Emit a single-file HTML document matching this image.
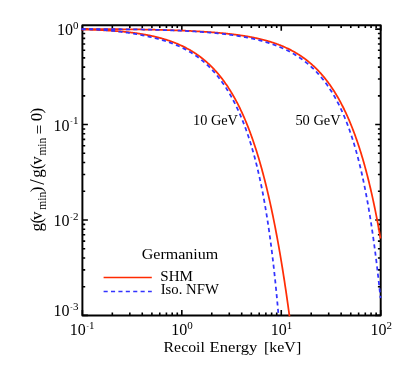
<!DOCTYPE html>
<html><head><meta charset="utf-8"><style>
html,body{margin:0;padding:0;background:#fff;}
svg{display:block;will-change:transform;font-family:"Liberation Serif",serif;fill:#000;}
</style></head><body>
<svg width="405" height="368" viewBox="0 0 405 368">
<rect width="405" height="368" fill="#fff"/>
<g fill="none" stroke-linecap="butt" stroke-linejoin="round">
<path d="M82.40 315.40 v-5.50 M82.40 25.20 v5.50 M112.33 315.40 v-2.80 M112.33 25.20 v2.80 M129.84 315.40 v-2.80 M129.84 25.20 v2.80 M142.26 315.40 v-2.80 M142.26 25.20 v2.80 M151.90 315.40 v-2.80 M151.90 25.20 v2.80 M159.77 315.40 v-2.80 M159.77 25.20 v2.80 M166.43 315.40 v-2.80 M166.43 25.20 v2.80 M172.20 315.40 v-2.80 M172.20 25.20 v2.80 M177.28 315.40 v-2.80 M177.28 25.20 v2.80 M181.83 315.40 v-5.50 M181.83 25.20 v5.50 M211.77 315.40 v-2.80 M211.77 25.20 v2.80 M229.28 315.40 v-2.80 M229.28 25.20 v2.80 M241.70 315.40 v-2.80 M241.70 25.20 v2.80 M251.33 315.40 v-2.80 M251.33 25.20 v2.80 M259.21 315.40 v-2.80 M259.21 25.20 v2.80 M265.86 315.40 v-2.80 M265.86 25.20 v2.80 M271.63 315.40 v-2.80 M271.63 25.20 v2.80 M276.72 315.40 v-2.80 M276.72 25.20 v2.80 M281.27 315.40 v-5.50 M281.27 25.20 v5.50 M311.20 315.40 v-2.80 M311.20 25.20 v2.80 M328.71 315.40 v-2.80 M328.71 25.20 v2.80 M341.13 315.40 v-2.80 M341.13 25.20 v2.80 M350.77 315.40 v-2.80 M350.77 25.20 v2.80 M358.64 315.40 v-2.80 M358.64 25.20 v2.80 M365.30 315.40 v-2.80 M365.30 25.20 v2.80 M371.06 315.40 v-2.80 M371.06 25.20 v2.80 M376.15 315.40 v-2.80 M376.15 25.20 v2.80 M380.70 315.40 v-5.50 M380.70 25.20 v5.50 M82.40 315.40 h5.50 M380.70 315.40 h-5.50 M82.40 286.68 h2.80 M380.70 286.68 h-2.80 M82.40 269.87 h2.80 M380.70 269.87 h-2.80 M82.40 257.95 h2.80 M380.70 257.95 h-2.80 M82.40 248.71 h2.80 M380.70 248.71 h-2.80 M82.40 241.15 h2.80 M380.70 241.15 h-2.80 M82.40 234.76 h2.80 M380.70 234.76 h-2.80 M82.40 229.23 h2.80 M380.70 229.23 h-2.80 M82.40 224.35 h2.80 M380.70 224.35 h-2.80 M82.40 219.98 h5.50 M380.70 219.98 h-5.50 M82.40 191.26 h2.80 M380.70 191.26 h-2.80 M82.40 174.46 h2.80 M380.70 174.46 h-2.80 M82.40 162.54 h2.80 M380.70 162.54 h-2.80 M82.40 153.29 h2.80 M380.70 153.29 h-2.80 M82.40 145.73 h2.80 M380.70 145.73 h-2.80 M82.40 139.35 h2.80 M380.70 139.35 h-2.80 M82.40 133.81 h2.80 M380.70 133.81 h-2.80 M82.40 128.93 h2.80 M380.70 128.93 h-2.80 M82.40 124.57 h5.50 M380.70 124.57 h-5.50 M82.40 95.84 h2.80 M380.70 95.84 h-2.80 M82.40 79.04 h2.80 M380.70 79.04 h-2.80 M82.40 67.12 h2.80 M380.70 67.12 h-2.80 M82.40 57.87 h2.80 M380.70 57.87 h-2.80 M82.40 50.32 h2.80 M380.70 50.32 h-2.80 M82.40 43.93 h2.80 M380.70 43.93 h-2.80 M82.40 38.40 h2.80 M380.70 38.40 h-2.80 M82.40 33.52 h2.80 M380.70 33.52 h-2.80 M82.40 29.15 h5.50 M380.70 29.15 h-5.50" stroke="#000" stroke-width="1.6"/>
<rect x="82.4" y="25.2" width="298.30" height="290.20" stroke="#000" stroke-width="1.95"/>
<path d="M81.50 29.54 L82.00 29.55 L82.50 29.56 L83.00 29.57 L83.50 29.58 L84.00 29.59 L84.50 29.60 L85.00 29.62 L85.50 29.63 L86.00 29.64 L86.50 29.65 L87.00 29.67 L87.50 29.68 L88.00 29.69 L88.50 29.71 L89.00 29.72 L89.50 29.74 L90.00 29.75 L90.50 29.77 L91.00 29.78 L91.50 29.80 L92.00 29.81 L92.50 29.83 L93.00 29.85 L93.50 29.86 L94.00 29.88 L94.50 29.90 L95.00 29.92 L95.50 29.93 L96.00 29.95 L96.50 29.97 L97.00 29.99 L97.50 30.01 L98.00 30.03 L98.50 30.05 L99.00 30.07 L99.50 30.09 L100.00 30.12 L100.50 30.14 L101.00 30.16 L101.50 30.18 L102.00 30.21 L102.50 30.23 L103.00 30.25 L103.50 30.28 L104.00 30.30 L104.50 30.33 L105.00 30.36 L105.50 30.38 L106.00 30.41 L106.50 30.44 L107.00 30.47 L107.50 30.49 L108.00 30.52 L108.50 30.55 L109.00 30.58 L109.50 30.61 L110.00 30.64 L110.50 30.68 L111.00 30.71 L111.50 30.74 L112.00 30.77 L112.50 30.81 L113.00 30.84 L113.50 30.88 L114.00 30.91 L114.50 30.95 L115.00 30.98 L115.50 31.02 L116.00 31.06 L116.50 31.10 L117.00 31.14 L117.50 31.18 L118.00 31.22 L118.50 31.26 L119.00 31.30 L119.50 31.34 L120.00 31.39 L120.50 31.43 L121.00 31.47 L121.50 31.52 L122.00 31.56 L122.50 31.61 L123.00 31.66 L123.50 31.71 L124.00 31.75 L124.50 31.80 L125.00 31.85 L125.50 31.91 L126.00 31.96 L126.50 32.01 L127.00 32.06 L127.50 32.12 L128.00 32.17 L128.50 32.23 L129.00 32.29 L129.50 32.34 L130.00 32.40 L130.50 32.46 L131.00 32.52 L131.50 32.58 L132.00 32.64 L132.50 32.71 L133.00 32.77 L133.50 32.83 L134.00 32.90 L134.50 32.97 L135.00 33.03 L135.50 33.10 L136.00 33.17 L136.50 33.24 L137.00 33.31 L137.50 33.39 L138.00 33.46 L138.50 33.54 L139.00 33.61 L139.50 33.69 L140.00 33.77 L140.50 33.84 L141.00 33.92 L141.50 34.01 L142.00 34.09 L142.50 34.17 L143.00 34.26 L143.50 34.34 L144.00 34.43 L144.50 34.52 L145.00 34.61 L145.50 34.70 L146.00 34.79 L146.50 34.88 L147.00 34.98 L147.50 35.07 L148.00 35.17 L148.50 35.27 L149.00 35.37 L149.50 35.47 L150.00 35.57 L150.50 35.67 L151.00 35.78 L151.50 35.89 L152.00 35.99 L152.50 36.10 L153.00 36.22 L153.50 36.33 L154.00 36.44 L154.50 36.56 L155.00 36.67 L155.50 36.79 L156.00 36.91 L156.50 37.04 L157.00 37.16 L157.50 37.28 L158.00 37.41 L158.50 37.54 L159.00 37.67 L159.50 37.80 L160.00 37.93 L160.50 38.07 L161.00 38.21 L161.50 38.35 L162.00 38.49 L162.50 38.63 L163.00 38.77 L163.50 38.92 L164.00 39.07 L164.50 39.22 L165.00 39.37 L165.50 39.52 L166.00 39.68 L166.50 39.84 L167.00 40.00 L167.50 40.16 L168.00 40.32 L168.50 40.49 L169.00 40.66 L169.50 40.83 L170.00 41.00 L170.50 41.18 L171.00 41.36 L171.50 41.54 L172.00 41.72 L172.50 41.90 L173.00 42.09 L173.50 42.28 L174.00 42.47 L174.50 42.66 L175.00 42.86 L175.50 43.06 L176.00 43.26 L176.50 43.47 L177.00 43.67 L177.50 43.88 L178.00 44.09 L178.50 44.31 L179.00 44.53 L179.50 44.75 L180.00 44.97 L180.50 45.20 L181.00 45.43 L181.50 45.66 L182.00 45.89 L182.50 46.13 L183.00 46.37 L183.50 46.62 L184.00 46.86 L184.50 47.11 L185.00 47.37 L185.50 47.62 L186.00 47.88 L186.50 48.15 L187.00 48.41 L187.50 48.68 L188.00 48.96 L188.50 49.23 L189.00 49.51 L189.50 49.80 L190.00 50.09 L190.50 50.38 L191.00 50.67 L191.50 50.97 L192.00 51.27 L192.50 51.58 L193.00 51.89 L193.50 52.20 L194.00 52.52 L194.50 52.84 L195.00 53.17 L195.50 53.50 L196.00 53.84 L196.50 54.18 L197.00 54.52 L197.50 54.87 L198.00 55.22 L198.50 55.58 L199.00 55.94 L199.50 56.30 L200.00 56.67 L200.50 57.05 L201.00 57.43 L201.50 57.81 L202.00 58.20 L202.50 58.60 L203.00 59.00 L203.50 59.40 L204.00 59.81 L204.50 60.23 L205.00 60.65 L205.50 61.07 L206.00 61.50 L206.50 61.94 L207.00 62.38 L207.50 62.83 L208.00 63.28 L208.50 63.74 L209.00 64.21 L209.50 64.68 L210.00 65.16 L210.50 65.64 L211.00 66.13 L211.50 66.63 L212.00 67.13 L212.50 67.64 L213.00 68.15 L213.50 68.67 L214.00 69.20 L214.50 69.74 L215.00 70.28 L215.50 70.83 L216.00 71.38 L216.50 71.95 L217.00 72.52 L217.50 73.10 L218.00 73.68 L218.50 74.27 L219.00 74.87 L219.50 75.48 L220.00 76.10 L220.50 76.72 L221.00 77.35 L221.50 77.99 L222.00 78.64 L222.50 79.30 L223.00 79.96 L223.50 80.63 L224.00 81.32 L224.50 82.01 L225.00 82.71 L225.50 83.42 L226.00 84.13 L226.50 84.86 L227.00 85.60 L227.50 86.34 L228.00 87.10 L228.50 87.86 L229.00 88.64 L229.50 89.42 L230.00 90.22 L230.50 91.03 L231.00 91.84 L231.50 92.67 L232.00 93.51 L232.50 94.35 L233.00 95.21 L233.50 96.08 L234.00 96.96 L234.50 97.86 L235.00 98.76 L235.50 99.68 L236.00 100.61 L236.50 101.55 L237.00 102.50 L237.50 103.46 L238.00 104.44 L238.50 105.43 L239.00 106.43 L239.50 107.45 L240.00 108.48 L240.50 109.52 L241.00 110.58 L241.50 111.64 L242.00 112.73 L242.50 113.83 L243.00 114.94 L243.50 116.06 L244.00 117.20 L244.50 118.36 L245.00 119.53 L245.50 120.72 L246.00 121.92 L246.50 123.13 L247.00 124.37 L247.50 125.62 L248.00 126.88 L248.50 128.16 L249.00 129.46 L249.50 130.78 L250.00 132.11 L250.50 133.46 L251.00 134.82 L251.50 136.21 L252.00 137.61 L252.50 139.03 L253.00 140.47 L253.50 141.93 L254.00 143.41 L254.50 144.91 L255.00 146.42 L255.50 147.96 L256.00 149.51 L256.50 151.09 L257.00 152.69 L257.50 154.30 L258.00 155.94 L258.50 157.60 L259.00 159.29 L259.50 160.99 L260.00 162.72 L260.50 164.46 L261.00 166.23 L261.50 168.03 L262.00 169.85 L262.50 171.69 L263.00 173.55 L263.50 175.44 L264.00 177.36 L264.50 179.30 L265.00 181.26 L265.50 183.25 L266.00 185.27 L266.50 187.31 L267.00 189.38 L267.50 191.47 L268.00 193.60 L268.50 195.75 L269.00 197.93 L269.50 200.13 L270.00 202.37 L270.50 204.63 L271.00 206.93 L271.50 209.25 L272.00 211.60 L272.50 213.99 L273.00 216.41 L273.50 218.85 L274.00 221.33 L274.50 223.84 L275.00 226.39 L275.50 228.96 L276.00 231.57 L276.50 234.22 L277.00 236.90 L277.50 239.61 L278.00 242.36 L278.50 245.14 L279.00 247.96 L279.50 250.82 L280.00 253.71 L280.50 256.64 L281.00 259.61 L281.50 262.62 L282.00 265.66 L282.50 268.75 L283.00 271.87 L283.50 275.04 L284.00 278.24 L284.50 281.49 L285.00 284.78 L285.50 288.11 L286.00 291.49 L286.50 294.90 L287.00 298.37 L287.50 301.87 L288.00 305.42 L288.50 309.02 L289.00 312.66 L289.49 316.30" stroke="#ff2d05" stroke-width="1.75"/>
<path d="M81.50 29.15 L82.00 29.15 L82.50 29.15 L83.00 29.15 L83.50 29.15 L84.00 29.15 L84.50 29.15 L85.00 29.15 L85.50 29.15 L86.00 29.16 L86.50 29.16 L87.00 29.16 L87.50 29.16 L88.00 29.16 L88.50 29.16 L89.00 29.16 L89.50 29.16 L90.00 29.16 L90.50 29.16 L91.00 29.16 L91.50 29.16 L92.00 29.16 L92.50 29.16 L93.00 29.16 L93.50 29.16 L94.00 29.16 L94.50 29.16 L95.00 29.16 L95.50 29.16 L96.00 29.17 L96.50 29.17 L97.00 29.17 L97.50 29.17 L98.00 29.17 L98.50 29.17 L99.00 29.17 L99.50 29.17 L100.00 29.17 L100.50 29.17 L101.00 29.17 L101.50 29.18 L102.00 29.18 L102.50 29.18 L103.00 29.18 L103.50 29.18 L104.00 29.18 L104.50 29.18 L105.00 29.18 L105.50 29.19 L106.00 29.19 L106.50 29.19 L107.00 29.19 L107.50 29.19 L108.00 29.19 L108.50 29.20 L109.00 29.20 L109.50 29.20 L110.00 29.20 L110.50 29.20 L111.00 29.21 L111.50 29.21 L112.00 29.21 L112.50 29.21 L113.00 29.21 L113.50 29.22 L114.00 29.22 L114.50 29.22 L115.00 29.22 L115.50 29.23 L116.00 29.23 L116.50 29.23 L117.00 29.24 L117.50 29.24 L118.00 29.24 L118.50 29.24 L119.00 29.25 L119.50 29.25 L120.00 29.25 L120.50 29.26 L121.00 29.26 L121.50 29.27 L122.00 29.27 L122.50 29.27 L123.00 29.28 L123.50 29.28 L124.00 29.28 L124.50 29.29 L125.00 29.29 L125.50 29.30 L126.00 29.30 L126.50 29.31 L127.00 29.31 L127.50 29.31 L128.00 29.32 L128.50 29.32 L129.00 29.33 L129.50 29.33 L130.00 29.34 L130.50 29.34 L131.00 29.35 L131.50 29.36 L132.00 29.36 L132.50 29.37 L133.00 29.37 L133.50 29.38 L134.00 29.38 L134.50 29.39 L135.00 29.40 L135.50 29.40 L136.00 29.41 L136.50 29.42 L137.00 29.42 L137.50 29.43 L138.00 29.44 L138.50 29.44 L139.00 29.45 L139.50 29.46 L140.00 29.46 L140.50 29.47 L141.00 29.48 L141.50 29.49 L142.00 29.50 L142.50 29.50 L143.00 29.51 L143.50 29.52 L144.00 29.53 L144.50 29.54 L145.00 29.54 L145.50 29.55 L146.00 29.56 L146.50 29.57 L147.00 29.58 L147.50 29.59 L148.00 29.60 L148.50 29.61 L149.00 29.62 L149.50 29.63 L150.00 29.64 L150.50 29.65 L151.00 29.66 L151.50 29.67 L152.00 29.68 L152.50 29.69 L153.00 29.70 L153.50 29.71 L154.00 29.72 L154.50 29.73 L155.00 29.74 L155.50 29.76 L156.00 29.77 L156.50 29.78 L157.00 29.79 L157.50 29.80 L158.00 29.81 L158.50 29.83 L159.00 29.84 L159.50 29.85 L160.00 29.86 L160.50 29.88 L161.00 29.89 L161.50 29.90 L162.00 29.92 L162.50 29.93 L163.00 29.94 L163.50 29.96 L164.00 29.97 L164.50 29.99 L165.00 30.00 L165.50 30.01 L166.00 30.03 L166.50 30.04 L167.00 30.06 L167.50 30.07 L168.00 30.09 L168.50 30.10 L169.00 30.12 L169.50 30.14 L170.00 30.15 L170.50 30.17 L171.00 30.18 L171.50 30.20 L172.00 30.22 L172.50 30.23 L173.00 30.25 L173.50 30.27 L174.00 30.29 L174.50 30.30 L175.00 30.32 L175.50 30.34 L176.00 30.36 L176.50 30.38 L177.00 30.39 L177.50 30.41 L178.00 30.43 L178.50 30.45 L179.00 30.47 L179.50 30.49 L180.00 30.51 L180.50 30.53 L181.00 30.55 L181.50 30.57 L182.00 30.59 L182.50 30.61 L183.00 30.63 L183.50 30.65 L184.00 30.67 L184.50 30.69 L185.00 30.72 L185.50 30.74 L186.00 30.76 L186.50 30.78 L187.00 30.80 L187.50 30.83 L188.00 30.85 L188.50 30.87 L189.00 30.90 L189.50 30.92 L190.00 30.95 L190.50 30.97 L191.00 30.99 L191.50 31.02 L192.00 31.04 L192.50 31.07 L193.00 31.09 L193.50 31.12 L194.00 31.15 L194.50 31.17 L195.00 31.20 L195.50 31.23 L196.00 31.25 L196.50 31.28 L197.00 31.31 L197.50 31.34 L198.00 31.37 L198.50 31.39 L199.00 31.42 L199.50 31.45 L200.00 31.48 L200.50 31.51 L201.00 31.54 L201.50 31.57 L202.00 31.60 L202.50 31.63 L203.00 31.66 L203.50 31.70 L204.00 31.73 L204.50 31.76 L205.00 31.79 L205.50 31.83 L206.00 31.86 L206.50 31.89 L207.00 31.93 L207.50 31.96 L208.00 32.00 L208.50 32.03 L209.00 32.07 L209.50 32.10 L210.00 32.14 L210.50 32.18 L211.00 32.21 L211.50 32.25 L212.00 32.29 L212.50 32.33 L213.00 32.37 L213.50 32.41 L214.00 32.45 L214.50 32.49 L215.00 32.53 L215.50 32.57 L216.00 32.61 L216.50 32.65 L217.00 32.69 L217.50 32.74 L218.00 32.78 L218.50 32.82 L219.00 32.87 L219.50 32.91 L220.00 32.96 L220.50 33.00 L221.00 33.05 L221.50 33.10 L222.00 33.14 L222.50 33.19 L223.00 33.24 L223.50 33.29 L224.00 33.34 L224.50 33.39 L225.00 33.44 L225.50 33.49 L226.00 33.54 L226.50 33.59 L227.00 33.65 L227.50 33.70 L228.00 33.76 L228.50 33.81 L229.00 33.87 L229.50 33.92 L230.00 33.98 L230.50 34.04 L231.00 34.09 L231.50 34.15 L232.00 34.21 L232.50 34.27 L233.00 34.33 L233.50 34.40 L234.00 34.46 L234.50 34.52 L235.00 34.59 L235.50 34.65 L236.00 34.72 L236.50 34.78 L237.00 34.85 L237.50 34.92 L238.00 34.99 L238.50 35.05 L239.00 35.12 L239.50 35.20 L240.00 35.27 L240.50 35.34 L241.00 35.41 L241.50 35.49 L242.00 35.56 L242.50 35.64 L243.00 35.72 L243.50 35.80 L244.00 35.88 L244.50 35.96 L245.00 36.04 L245.50 36.12 L246.00 36.20 L246.50 36.29 L247.00 36.37 L247.50 36.46 L248.00 36.55 L248.50 36.63 L249.00 36.72 L249.50 36.81 L250.00 36.91 L250.50 37.00 L251.00 37.09 L251.50 37.19 L252.00 37.28 L252.50 37.38 L253.00 37.48 L253.50 37.58 L254.00 37.68 L254.50 37.78 L255.00 37.89 L255.50 37.99 L256.00 38.10 L256.50 38.21 L257.00 38.32 L257.50 38.43 L258.00 38.54 L258.50 38.65 L259.00 38.77 L259.50 38.88 L260.00 39.00 L260.50 39.12 L261.00 39.24 L261.50 39.36 L262.00 39.49 L262.50 39.61 L263.00 39.74 L263.50 39.87 L264.00 40.00 L264.50 40.13 L265.00 40.26 L265.50 40.40 L266.00 40.53 L266.50 40.67 L267.00 40.81 L267.50 40.95 L268.00 41.10 L268.50 41.24 L269.00 41.39 L269.50 41.54 L270.00 41.69 L270.50 41.85 L271.00 42.00 L271.50 42.16 L272.00 42.32 L272.50 42.48 L273.00 42.64 L273.50 42.81 L274.00 42.98 L274.50 43.14 L275.00 43.32 L275.50 43.49 L276.00 43.67 L276.50 43.85 L277.00 44.03 L277.50 44.21 L278.00 44.40 L278.50 44.58 L279.00 44.77 L279.50 44.97 L280.00 45.16 L280.50 45.36 L281.00 45.56 L281.50 45.76 L282.00 45.97 L282.50 46.18 L283.00 46.39 L283.50 46.60 L284.00 46.82 L284.50 47.04 L285.00 47.26 L285.50 47.48 L286.00 47.71 L286.50 47.94 L287.00 48.17 L287.50 48.41 L288.00 48.65 L288.50 48.89 L289.00 49.14 L289.50 49.39 L290.00 49.64 L290.50 49.89 L291.00 50.15 L291.50 50.42 L292.00 50.68 L292.50 50.95 L293.00 51.22 L293.50 51.50 L294.00 51.78 L294.50 52.06 L295.00 52.35 L295.50 52.64 L296.00 52.93 L296.50 53.23 L297.00 53.53 L297.50 53.84 L298.00 54.15 L298.50 54.46 L299.00 54.78 L299.50 55.10 L300.00 55.42 L300.50 55.76 L301.00 56.09 L301.50 56.43 L302.00 56.77 L302.50 57.12 L303.00 57.47 L303.50 57.83 L304.00 58.19 L304.50 58.55 L305.00 58.92 L305.50 59.30 L306.00 59.68 L306.50 60.06 L307.00 60.45 L307.50 60.85 L308.00 61.25 L308.50 61.65 L309.00 62.06 L309.50 62.48 L310.00 62.90 L310.50 63.33 L311.00 63.76 L311.50 64.20 L312.00 64.64 L312.50 65.09 L313.00 65.54 L313.50 66.01 L314.00 66.47 L314.50 66.94 L315.00 67.42 L315.50 67.91 L316.00 68.40 L316.50 68.90 L317.00 69.40 L317.50 69.91 L318.00 70.43 L318.50 70.95 L319.00 71.48 L319.50 72.02 L320.00 72.56 L320.50 73.12 L321.00 73.67 L321.50 74.24 L322.00 74.81 L322.50 75.39 L323.00 75.98 L323.50 76.58 L324.00 77.18 L324.50 77.79 L325.00 78.41 L325.50 79.04 L326.00 79.67 L326.50 80.32 L327.00 80.97 L327.50 81.63 L328.00 82.30 L328.50 82.97 L329.00 83.66 L329.50 84.36 L330.00 85.06 L330.50 85.77 L331.00 86.50 L331.50 87.23 L332.00 87.97 L332.50 88.72 L333.00 89.48 L333.50 90.25 L334.00 91.04 L334.50 91.83 L335.00 92.63 L335.50 93.44 L336.00 94.26 L336.50 95.10 L337.00 95.94 L337.50 96.80 L338.00 97.67 L338.50 98.54 L339.00 99.43 L339.50 100.34 L340.00 101.25 L340.50 102.18 L341.00 103.11 L341.50 104.07 L342.00 105.03 L342.50 106.00 L343.00 106.99 L343.50 108.00 L344.00 109.01 L344.50 110.04 L345.00 111.08 L345.50 112.14 L346.00 113.21 L346.50 114.30 L347.00 115.39 L347.50 116.51 L348.00 117.64 L348.50 118.78 L349.00 119.94 L349.50 121.12 L350.00 122.31 L350.50 123.52 L351.00 124.74 L351.50 125.98 L352.00 127.24 L352.50 128.52 L353.00 129.81 L353.50 131.12 L354.00 132.45 L354.50 133.80 L355.00 135.16 L355.50 136.54 L356.00 137.95 L356.50 139.37 L357.00 140.81 L357.50 142.28 L358.00 143.76 L358.50 145.26 L359.00 146.79 L359.50 148.33 L360.00 149.90 L360.50 151.49 L361.00 153.10 L361.50 154.74 L362.00 156.40 L362.50 158.08 L363.00 159.78 L363.50 161.51 L364.00 163.27 L364.50 165.05 L365.00 166.86 L365.50 168.69 L366.00 170.55 L366.50 172.44 L367.00 174.35 L367.50 176.29 L368.00 178.26 L368.50 180.26 L369.00 182.29 L369.50 184.35 L370.00 186.44 L370.50 188.56 L371.00 190.71 L371.50 192.90 L372.00 195.11 L372.50 197.36 L373.00 199.65 L373.50 201.97 L374.00 204.32 L374.50 206.72 L375.00 209.14 L375.50 211.61 L376.00 214.11 L376.50 216.65 L377.00 219.24 L377.50 221.86 L378.00 224.52 L378.50 227.23 L379.00 229.97 L379.50 232.77 L380.00 235.60 L380.50 238.48" stroke="#ff2d05" stroke-width="1.75"/>
<path d="M81.50 29.24 L82.00 29.25 L82.50 29.26 L83.00 29.26 L83.50 29.27 L84.00 29.28 L84.50 29.29 L85.00 29.30 L85.50 29.31 L86.00 29.32 L86.50 29.33 L87.00 29.34 L87.50 29.35 L88.00 29.36 L88.50 29.37 L89.00 29.39 L89.50 29.40 L90.00 29.41 L90.50 29.43 L91.00 29.44 L91.50 29.46 L92.00 29.48 L92.50 29.49 L93.00 29.51 L93.50 29.53 L94.00 29.55 L94.50 29.57 L95.00 29.59 L95.50 29.61 L96.00 29.63 L96.50 29.66 L97.00 29.68 L97.50 29.70 L98.00 29.73 L98.50 29.75 L99.00 29.78 L99.50 29.81 L100.00 29.84 L100.50 29.86 L101.00 29.89 L101.50 29.93 L102.00 29.96 L102.50 29.99 L103.00 30.02 L103.50 30.06 L104.00 30.09 L104.50 30.13 L105.00 30.16 L105.50 30.20 L106.00 30.24 L106.50 30.28 L107.00 30.32 L107.50 30.36 L108.00 30.40 L108.50 30.44 L109.00 30.48 L109.50 30.53 L110.00 30.57 L110.50 30.62 L111.00 30.67 L111.50 30.71 L112.00 30.76 L112.50 30.81 L113.00 30.86 L113.50 30.91 L114.00 30.97 L114.50 31.02 L115.00 31.07 L115.50 31.13 L116.00 31.18 L116.50 31.24 L117.00 31.29 L117.50 31.35 L118.00 31.41 L118.50 31.47 L119.00 31.53 L119.50 31.59 L120.00 31.65 L120.50 31.72 L121.00 31.78 L121.50 31.85 L122.00 31.91 L122.50 31.98 L123.00 32.04 L123.50 32.11 L124.00 32.18 L124.50 32.25 L125.00 32.32 L125.50 32.39 L126.00 32.46 L126.50 32.53 L127.00 32.61 L127.50 32.68 L128.00 32.76 L128.50 32.83 L129.00 32.91 L129.50 32.99 L130.00 33.06 L130.50 33.14 L131.00 33.22 L131.50 33.30 L132.00 33.38 L132.50 33.47 L133.00 33.55 L133.50 33.63 L134.00 33.72 L134.50 33.80 L135.00 33.89 L135.50 33.98 L136.00 34.06 L136.50 34.15 L137.00 34.24 L137.50 34.33 L138.00 34.42 L138.50 34.52 L139.00 34.61 L139.50 34.70 L140.00 34.80 L140.50 34.89 L141.00 34.99 L141.50 35.09 L142.00 35.19 L142.50 35.28 L143.00 35.38 L143.50 35.49 L144.00 35.59 L144.50 35.69 L145.00 35.79 L145.50 35.90 L146.00 36.01 L146.50 36.11 L147.00 36.22 L147.50 36.33 L148.00 36.44 L148.50 36.55 L149.00 36.66 L149.50 36.78 L150.00 36.89 L150.50 37.01 L151.00 37.12 L151.50 37.24 L152.00 37.36 L152.50 37.48 L153.00 37.60 L153.50 37.73 L154.00 37.85 L154.50 37.97 L155.00 38.10 L155.50 38.23 L156.00 38.36 L156.50 38.49 L157.00 38.62 L157.50 38.76 L158.00 38.89 L158.50 39.03 L159.00 39.17 L159.50 39.30 L160.00 39.45 L160.50 39.59 L161.00 39.73 L161.50 39.88 L162.00 40.03 L162.50 40.17 L163.00 40.33 L163.50 40.48 L164.00 40.63 L164.50 40.79 L165.00 40.95 L165.50 41.11 L166.00 41.27 L166.50 41.43 L167.00 41.60 L167.50 41.76 L168.00 41.93 L168.50 42.10 L169.00 42.28 L169.50 42.45 L170.00 42.63 L170.50 42.81 L171.00 42.99 L171.50 43.18 L172.00 43.36 L172.50 43.55 L173.00 43.74 L173.50 43.94 L174.00 44.13 L174.50 44.33 L175.00 44.53 L175.50 44.74 L176.00 44.94 L176.50 45.15 L177.00 45.36 L177.50 45.58 L178.00 45.79 L178.50 46.01 L179.00 46.23 L179.50 46.46 L180.00 46.69 L180.50 46.92 L181.00 47.15 L181.50 47.39 L182.00 47.63 L182.50 47.87 L183.00 48.12 L183.50 48.37 L184.00 48.62 L184.50 48.88 L185.00 49.14 L185.50 49.40 L186.00 49.67 L186.50 49.94 L187.00 50.21 L187.50 50.49 L188.00 50.77 L188.50 51.05 L189.00 51.34 L189.50 51.64 L190.00 51.93 L190.50 52.23 L191.00 52.54 L191.50 52.84 L192.00 53.16 L192.50 53.47 L193.00 53.79 L193.50 54.12 L194.00 54.45 L194.50 54.78 L195.00 55.12 L195.50 55.46 L196.00 55.81 L196.50 56.16 L197.00 56.52 L197.50 56.88 L198.00 57.24 L198.50 57.62 L199.00 57.99 L199.50 58.37 L200.00 58.76 L200.50 59.15 L201.00 59.55 L201.50 59.95 L202.00 60.36 L202.50 60.77 L203.00 61.19 L203.50 61.61 L204.00 62.04 L204.50 62.47 L205.00 62.92 L205.50 63.36 L206.00 63.81 L206.50 64.27 L207.00 64.74 L207.50 65.21 L208.00 65.69 L208.50 66.17 L209.00 66.66 L209.50 67.16 L210.00 67.66 L210.50 68.17 L211.00 68.69 L211.50 69.21 L212.00 69.74 L212.50 70.28 L213.00 70.83 L213.50 71.38 L214.00 71.94 L214.50 72.50 L215.00 73.08 L215.50 73.66 L216.00 74.25 L216.50 74.85 L217.00 75.45 L217.50 76.07 L218.00 76.69 L218.50 77.32 L219.00 77.96 L219.50 78.61 L220.00 79.26 L220.50 79.93 L221.00 80.60 L221.50 81.28 L222.00 81.98 L222.50 82.68 L223.00 83.39 L223.50 84.11 L224.00 84.84 L224.50 85.58 L225.00 86.33 L225.50 87.09 L226.00 87.86 L226.50 88.64 L227.00 89.43 L227.50 90.23 L228.00 91.05 L228.50 91.87 L229.00 92.71 L229.50 93.55 L230.00 94.41 L230.50 95.28 L231.00 96.17 L231.50 97.06 L232.00 97.97 L232.50 98.89 L233.00 99.82 L233.50 100.77 L234.00 101.73 L234.50 102.70 L235.00 103.69 L235.50 104.69 L236.00 105.71 L236.50 106.74 L237.00 107.78 L237.50 108.85 L238.00 109.92 L238.50 111.01 L239.00 112.12 L239.50 113.25 L240.00 114.39 L240.50 115.55 L241.00 116.73 L241.50 117.92 L242.00 119.13 L242.50 120.37 L243.00 121.62 L243.50 122.89 L244.00 124.18 L244.50 125.49 L245.00 126.82 L245.50 128.17 L246.00 129.55 L246.50 130.94 L247.00 132.36 L247.50 133.81 L248.00 135.27 L248.50 136.76 L249.00 138.28 L249.50 139.82 L250.00 141.39 L250.50 142.99 L251.00 144.61 L251.50 146.27 L252.00 147.95 L252.50 149.66 L253.00 151.40 L253.50 153.18 L254.00 154.99 L254.50 156.83 L255.00 158.70 L255.50 160.61 L256.00 162.56 L256.50 164.54 L257.00 166.57 L257.50 168.63 L258.00 170.73 L258.50 172.87 L259.00 175.06 L259.50 177.30 L260.00 179.57 L260.50 181.90 L261.00 184.27 L261.50 186.70 L262.00 189.17 L262.50 191.70 L263.00 194.29 L263.50 196.93 L264.00 199.63 L264.50 202.39 L265.00 205.21 L265.50 208.10 L266.00 211.06 L266.50 214.08 L267.00 217.17 L267.50 220.34 L268.00 223.59 L268.50 226.91 L269.00 230.32 L269.50 233.81 L270.00 237.39 L270.50 241.06 L271.00 244.82 L271.50 248.68 L272.00 252.65 L272.50 256.71 L273.00 260.89 L273.50 265.18 L274.00 269.58 L274.50 274.11 L275.00 278.76 L275.50 283.55 L276.00 288.47 L276.50 293.53 L277.00 298.74 L277.50 304.10 L278.00 309.62 L278.50 315.30 L278.59 316.30" stroke="#3333ff" stroke-width="1.75" stroke-dasharray="4.1 3.3"/>
<path d="M81.50 29.15 L82.00 29.15 L82.50 29.15 L83.00 29.15 L83.50 29.15 L84.00 29.15 L84.50 29.15 L85.00 29.15 L85.50 29.15 L86.00 29.15 L86.50 29.15 L87.00 29.15 L87.50 29.15 L88.00 29.15 L88.50 29.15 L89.00 29.15 L89.50 29.15 L90.00 29.15 L90.50 29.15 L91.00 29.16 L91.50 29.16 L92.00 29.16 L92.50 29.16 L93.00 29.16 L93.50 29.16 L94.00 29.16 L94.50 29.16 L95.00 29.16 L95.50 29.16 L96.00 29.16 L96.50 29.16 L97.00 29.16 L97.50 29.16 L98.00 29.16 L98.50 29.16 L99.00 29.16 L99.50 29.16 L100.00 29.16 L100.50 29.17 L101.00 29.17 L101.50 29.17 L102.00 29.17 L102.50 29.17 L103.00 29.17 L103.50 29.17 L104.00 29.17 L104.50 29.17 L105.00 29.17 L105.50 29.18 L106.00 29.18 L106.50 29.18 L107.00 29.18 L107.50 29.18 L108.00 29.18 L108.50 29.18 L109.00 29.18 L109.50 29.19 L110.00 29.19 L110.50 29.19 L111.00 29.19 L111.50 29.19 L112.00 29.20 L112.50 29.20 L113.00 29.20 L113.50 29.20 L114.00 29.20 L114.50 29.21 L115.00 29.21 L115.50 29.21 L116.00 29.21 L116.50 29.22 L117.00 29.22 L117.50 29.22 L118.00 29.22 L118.50 29.23 L119.00 29.23 L119.50 29.23 L120.00 29.24 L120.50 29.24 L121.00 29.24 L121.50 29.25 L122.00 29.25 L122.50 29.25 L123.00 29.26 L123.50 29.26 L124.00 29.26 L124.50 29.27 L125.00 29.27 L125.50 29.28 L126.00 29.28 L126.50 29.28 L127.00 29.29 L127.50 29.29 L128.00 29.30 L128.50 29.30 L129.00 29.31 L129.50 29.31 L130.00 29.32 L130.50 29.32 L131.00 29.33 L131.50 29.33 L132.00 29.34 L132.50 29.35 L133.00 29.35 L133.50 29.36 L134.00 29.36 L134.50 29.37 L135.00 29.38 L135.50 29.38 L136.00 29.39 L136.50 29.40 L137.00 29.40 L137.50 29.41 L138.00 29.42 L138.50 29.43 L139.00 29.43 L139.50 29.44 L140.00 29.45 L140.50 29.46 L141.00 29.47 L141.50 29.47 L142.00 29.48 L142.50 29.49 L143.00 29.50 L143.50 29.51 L144.00 29.52 L144.50 29.53 L145.00 29.54 L145.50 29.55 L146.00 29.56 L146.50 29.57 L147.00 29.58 L147.50 29.59 L148.00 29.60 L148.50 29.61 L149.00 29.62 L149.50 29.63 L150.00 29.64 L150.50 29.65 L151.00 29.66 L151.50 29.68 L152.00 29.69 L152.50 29.70 L153.00 29.71 L153.50 29.72 L154.00 29.74 L154.50 29.75 L155.00 29.76 L155.50 29.77 L156.00 29.79 L156.50 29.80 L157.00 29.82 L157.50 29.83 L158.00 29.84 L158.50 29.86 L159.00 29.87 L159.50 29.89 L160.00 29.90 L160.50 29.92 L161.00 29.93 L161.50 29.95 L162.00 29.96 L162.50 29.98 L163.00 29.99 L163.50 30.01 L164.00 30.03 L164.50 30.04 L165.00 30.06 L165.50 30.08 L166.00 30.09 L166.50 30.11 L167.00 30.13 L167.50 30.15 L168.00 30.17 L168.50 30.18 L169.00 30.20 L169.50 30.22 L170.00 30.24 L170.50 30.26 L171.00 30.28 L171.50 30.30 L172.00 30.32 L172.50 30.34 L173.00 30.36 L173.50 30.38 L174.00 30.40 L174.50 30.42 L175.00 30.44 L175.50 30.46 L176.00 30.48 L176.50 30.51 L177.00 30.53 L177.50 30.55 L178.00 30.57 L178.50 30.60 L179.00 30.62 L179.50 30.64 L180.00 30.67 L180.50 30.69 L181.00 30.71 L181.50 30.74 L182.00 30.76 L182.50 30.79 L183.00 30.81 L183.50 30.84 L184.00 30.86 L184.50 30.89 L185.00 30.92 L185.50 30.94 L186.00 30.97 L186.50 31.00 L187.00 31.02 L187.50 31.05 L188.00 31.08 L188.50 31.11 L189.00 31.13 L189.50 31.16 L190.00 31.19 L190.50 31.22 L191.00 31.25 L191.50 31.28 L192.00 31.31 L192.50 31.34 L193.00 31.37 L193.50 31.40 L194.00 31.43 L194.50 31.47 L195.00 31.50 L195.50 31.53 L196.00 31.56 L196.50 31.60 L197.00 31.63 L197.50 31.66 L198.00 31.70 L198.50 31.73 L199.00 31.77 L199.50 31.80 L200.00 31.84 L200.50 31.87 L201.00 31.91 L201.50 31.95 L202.00 31.98 L202.50 32.02 L203.00 32.06 L203.50 32.10 L204.00 32.13 L204.50 32.17 L205.00 32.21 L205.50 32.25 L206.00 32.29 L206.50 32.33 L207.00 32.37 L207.50 32.41 L208.00 32.46 L208.50 32.50 L209.00 32.54 L209.50 32.58 L210.00 32.63 L210.50 32.67 L211.00 32.72 L211.50 32.76 L212.00 32.81 L212.50 32.85 L213.00 32.90 L213.50 32.94 L214.00 32.99 L214.50 33.04 L215.00 33.09 L215.50 33.14 L216.00 33.18 L216.50 33.23 L217.00 33.28 L217.50 33.33 L218.00 33.39 L218.50 33.44 L219.00 33.49 L219.50 33.54 L220.00 33.60 L220.50 33.65 L221.00 33.70 L221.50 33.76 L222.00 33.82 L222.50 33.87 L223.00 33.93 L223.50 33.99 L224.00 34.04 L224.50 34.10 L225.00 34.16 L225.50 34.22 L226.00 34.28 L226.50 34.34 L227.00 34.41 L227.50 34.47 L228.00 34.53 L228.50 34.60 L229.00 34.66 L229.50 34.73 L230.00 34.79 L230.50 34.86 L231.00 34.93 L231.50 34.99 L232.00 35.06 L232.50 35.13 L233.00 35.20 L233.50 35.27 L234.00 35.35 L234.50 35.42 L235.00 35.49 L235.50 35.57 L236.00 35.64 L236.50 35.72 L237.00 35.80 L237.50 35.87 L238.00 35.95 L238.50 36.03 L239.00 36.11 L239.50 36.19 L240.00 36.28 L240.50 36.36 L241.00 36.44 L241.50 36.53 L242.00 36.62 L242.50 36.70 L243.00 36.79 L243.50 36.88 L244.00 36.97 L244.50 37.06 L245.00 37.15 L245.50 37.24 L246.00 37.34 L246.50 37.43 L247.00 37.53 L247.50 37.63 L248.00 37.73 L248.50 37.83 L249.00 37.93 L249.50 38.03 L250.00 38.13 L250.50 38.24 L251.00 38.34 L251.50 38.45 L252.00 38.56 L252.50 38.66 L253.00 38.77 L253.50 38.89 L254.00 39.00 L254.50 39.11 L255.00 39.23 L255.50 39.35 L256.00 39.46 L256.50 39.58 L257.00 39.70 L257.50 39.83 L258.00 39.95 L258.50 40.08 L259.00 40.20 L259.50 40.33 L260.00 40.46 L260.50 40.59 L261.00 40.72 L261.50 40.86 L262.00 40.99 L262.50 41.13 L263.00 41.27 L263.50 41.41 L264.00 41.55 L264.50 41.70 L265.00 41.84 L265.50 41.99 L266.00 42.14 L266.50 42.29 L267.00 42.44 L267.50 42.60 L268.00 42.76 L268.50 42.91 L269.00 43.07 L269.50 43.24 L270.00 43.40 L270.50 43.57 L271.00 43.73 L271.50 43.90 L272.00 44.07 L272.50 44.25 L273.00 44.42 L273.50 44.60 L274.00 44.78 L274.50 44.97 L275.00 45.15 L275.50 45.34 L276.00 45.53 L276.50 45.72 L277.00 45.91 L277.50 46.11 L278.00 46.30 L278.50 46.51 L279.00 46.71 L279.50 46.91 L280.00 47.12 L280.50 47.33 L281.00 47.55 L281.50 47.76 L282.00 47.98 L282.50 48.20 L283.00 48.42 L283.50 48.65 L284.00 48.88 L284.50 49.11 L285.00 49.35 L285.50 49.58 L286.00 49.82 L286.50 50.07 L287.00 50.31 L287.50 50.56 L288.00 50.82 L288.50 51.07 L289.00 51.33 L289.50 51.59 L290.00 51.86 L290.50 52.13 L291.00 52.40 L291.50 52.67 L292.00 52.95 L292.50 53.23 L293.00 53.52 L293.50 53.81 L294.00 54.10 L294.50 54.40 L295.00 54.70 L295.50 55.00 L296.00 55.31 L296.50 55.62 L297.00 55.94 L297.50 56.26 L298.00 56.58 L298.50 56.91 L299.00 57.24 L299.50 57.57 L300.00 57.91 L300.50 58.26 L301.00 58.61 L301.50 58.96 L302.00 59.32 L302.50 59.68 L303.00 60.05 L303.50 60.42 L304.00 60.79 L304.50 61.18 L305.00 61.56 L305.50 61.95 L306.00 62.35 L306.50 62.75 L307.00 63.16 L307.50 63.57 L308.00 63.99 L308.50 64.41 L309.00 64.84 L309.50 65.27 L310.00 65.71 L310.50 66.15 L311.00 66.60 L311.50 67.06 L312.00 67.52 L312.50 67.99 L313.00 68.47 L313.50 68.95 L314.00 69.44 L314.50 69.93 L315.00 70.43 L315.50 70.94 L316.00 71.46 L316.50 71.98 L317.00 72.51 L317.50 73.04 L318.00 73.59 L318.50 74.14 L319.00 74.70 L319.50 75.26 L320.00 75.84 L320.50 76.42 L321.00 77.01 L321.50 77.60 L322.00 78.21 L322.50 78.83 L323.00 79.45 L323.50 80.08 L324.00 80.72 L324.50 81.37 L325.00 82.03 L325.50 82.70 L326.00 83.38 L326.50 84.06 L327.00 84.76 L327.50 85.47 L328.00 86.19 L328.50 86.91 L329.00 87.65 L329.50 88.40 L330.00 89.16 L330.50 89.93 L331.00 90.72 L331.50 91.51 L332.00 92.32 L332.50 93.13 L333.00 93.97 L333.50 94.81 L334.00 95.66 L334.50 96.53 L335.00 97.41 L335.50 98.31 L336.00 99.22 L336.50 100.14 L337.00 101.07 L337.50 102.03 L338.00 102.99 L338.50 103.97 L339.00 104.97 L339.50 105.98 L340.00 107.01 L340.50 108.05 L341.00 109.11 L341.50 110.19 L342.00 111.28 L342.50 112.39 L343.00 113.52 L343.50 114.67 L344.00 115.84 L344.50 117.03 L345.00 118.23 L345.50 119.46 L346.00 120.70 L346.50 121.97 L347.00 123.26 L347.50 124.57 L348.00 125.90 L348.50 127.25 L349.00 128.63 L349.50 130.03 L350.00 131.45 L350.50 132.90 L351.00 134.38 L351.50 135.88 L352.00 137.40 L352.50 138.96 L353.00 140.54 L353.50 142.15 L354.00 143.78 L354.50 145.45 L355.00 147.15 L355.50 148.88 L356.00 150.63 L356.50 152.43 L357.00 154.25 L357.50 156.11 L358.00 158.00 L358.50 159.93 L359.00 161.89 L359.50 163.90 L360.00 165.93 L360.50 168.01 L361.00 170.13 L361.50 172.29 L362.00 174.49 L362.50 176.74 L363.00 179.02 L363.50 181.36 L364.00 183.73 L364.50 186.16 L365.00 188.64 L365.50 191.16 L366.00 193.74 L366.50 196.36 L367.00 199.05 L367.50 201.78 L368.00 204.58 L368.50 207.43 L369.00 210.34 L369.50 213.31 L370.00 216.35 L370.50 219.45 L371.00 222.62 L371.50 225.85 L372.00 229.16 L372.50 232.53 L373.00 235.98 L373.50 239.51 L374.00 243.11 L374.50 246.80 L375.00 250.56 L375.50 254.42 L376.00 258.35 L376.50 262.38 L377.00 266.50 L377.50 270.72 L378.00 275.03 L378.50 279.45 L379.00 283.96 L379.50 288.59 L380.00 293.32 L380.50 298.17" stroke="#3333ff" stroke-width="1.75" stroke-dasharray="4.1 3.3"/>
<path d="M103.6 277.4 H151.8" stroke="#ff2a00" stroke-width="1.5"/>
<path d="M103.6 291.4 H151.8" stroke="#3333ff" stroke-width="1.5" stroke-dasharray="4.1 3.3"/>
</g>
<g font-size="16px" text-anchor="middle">
<text x="82.1" y="335.3">10<tspan dy="-7.3" dx="0.8" font-size="7px">-</tspan><tspan dy="0.8" dx="0.3" font-size="11px">1</tspan></text>
<text x="182.1" y="335.3">10<tspan dy="-6.5" font-size="11px">0</tspan></text>
<text x="281.6" y="335.3">10<tspan dy="-6.5" font-size="11px">1</tspan></text>
<text x="381.3" y="335.3">10<tspan dy="-6.5" font-size="11px">2</tspan></text>
</g>
<g font-size="16px" text-anchor="end">
<text x="78.4" y="35.4">10<tspan dy="-6.5" font-size="11px">0</tspan></text>
<text x="78.5" y="130.6">10<tspan dy="-7.3" dx="0.8" font-size="7px">-</tspan><tspan dy="0.8" dx="0.3" font-size="11px">1</tspan></text>
<text x="78.5" y="226.0">10<tspan dy="-7.3" dx="0.8" font-size="7px">-</tspan><tspan dy="0.8" dx="0.3" font-size="11px">2</tspan></text>
<text x="78.5" y="316.4">10<tspan dy="-7.3" dx="0.8" font-size="7px">-</tspan><tspan dy="0.8" dx="0.3" font-size="11px">3</tspan></text>
</g>
<g font-size="15px"><text x="163.6" y="352" textLength="41.2" lengthAdjust="spacingAndGlyphs">Recoil</text><text x="209.6" y="352" textLength="47.8" lengthAdjust="spacingAndGlyphs">Energy</text><text x="264.0" y="352" textLength="37.2" lengthAdjust="spacingAndGlyphs">[keV]</text></g>
<g transform="translate(42.4 231.2) rotate(-90)" font-size="17px">
<text x="-0.4" y="0">g</text><text x="7.7" y="0">(</text><text x="11.3" y="0">v</text><text x="21.5" y="3.5" font-size="11.5px">min</text><text x="38.9" y="0">)</text>
<text x="46.4" y="1.7" font-size="20px">/</text>
<text x="53.4" y="0">g</text><text x="62.0" y="0">(</text><text x="66.4" y="0">v</text><text x="75.6" y="3.5" font-size="11.5px">min</text>
<text x="97.0" y="2.3">=</text><text x="109.9" y="0">0</text><text x="117.7" y="0">)</text>
</g>
<text x="141.7" y="258.6" font-size="13.6px" textLength="76.6" lengthAdjust="spacingAndGlyphs">Germanium</text>
<text x="160.3" y="281" font-size="13.6px" textLength="32.6" lengthAdjust="spacingAndGlyphs">SHM</text>
<text x="160.7" y="294.4" font-size="13.6px" textLength="58.2" lengthAdjust="spacingAndGlyphs">Iso. NFW</text>
<text x="193.0" y="124.8" font-size="14.1px" textLength="44.9" lengthAdjust="spacingAndGlyphs">10 GeV</text>
<text x="295.4" y="124.8" font-size="14.1px" textLength="45.3" lengthAdjust="spacingAndGlyphs">50 GeV</text>
</svg>
</body></html>
